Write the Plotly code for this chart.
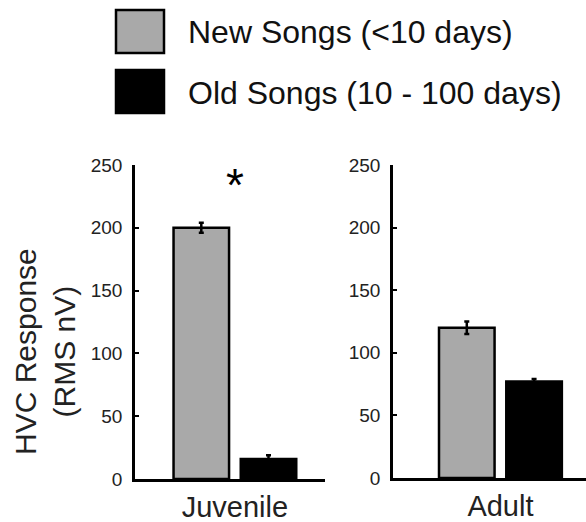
import plotly.graph_objects as go

# Mean HVC response (RMS nV) and SEM for each age group
groups = ["Juvenile", "Adult"]
series_names = ["New Songs (<10 days)", "Old Songs (10 - 100 days)"]
series_colors = ["#a9a9a9", "#000000"]
new_means = [200, 120]
new_errs = [4, 5]
old_means = [16, 77]
old_errs = [3, 2]
y_ticks = [0, 50, 100, 150, 200, 250]
significance = ["*", ""]

FONT = "Liberation Sans, Arial, Helvetica, sans-serif"
W, H = 586, 522

fig = go.Figure()

panel_x = ["x", "x2"]
panel_y = ["y", "y2"]
for i, g in enumerate(groups):
    for s, (means, errs) in enumerate([(new_means, new_errs), (old_means, old_errs)]):
        fig.add_trace(go.Bar(
            x=[0], y=[means[i]],
            name=series_names[s],
            offsetgroup=str(s),
            marker=dict(color=series_colors[s], line=dict(color="black", width=2.5)),
            error_y=dict(type="data", array=[errs[i]], color="black", thickness=2.5, width=2.5),
            xaxis=panel_x[i], yaxis=panel_y[i],
            showlegend=False,
        ))

def px(x):
    return x / W

def py(y):
    return 1 - y / H

y_common = dict(
    showline=True, linecolor="black", linewidth=2.5,
    showgrid=False, zeroline=False, automargin=False,
    tickfont=dict(family=FONT, size=19, color="#222"),
    range=[0, 250], tickvals=y_ticks,
    ticks="inside", ticklen=4, tickwidth=2, tickcolor="black",
    ticklabelstandoff=6,
)
x_common = dict(
    ticks="", showline=True, linecolor="black", linewidth=2.5,
    showgrid=False, zeroline=False, automargin=False,
    tickfont=dict(family=FONT, size=29, color="#222"),
    ticklabelstandoff=0,
)

fig.update_layout(
    width=W, height=H,
    margin=dict(l=0, r=0, t=0, b=0),
    paper_bgcolor="white", plot_bgcolor="white",
    barmode="group", bargap=0.2735, bargroupgap=0.174,
    showlegend=False,
    xaxis=dict(domain=[px(135), px(325)], range=[-0.54, 0.487],
               tickvals=[0], ticktext=[groups[0]], anchor="y", **x_common),
    xaxis2=dict(domain=[px(393), 1.0], range=[-0.58, 0.462],
                tickvals=[0], ticktext=[groups[1]], anchor="y2", **x_common),
    yaxis=dict(domain=[py(479), py(165)], anchor="x", **y_common),
    yaxis2=dict(domain=[py(478), py(165)], anchor="x2", **y_common),
)

# Y axis title
fig.add_annotation(
    text="HVC Response<br>(RMS nV)", textangle=-90,
    x=px(45), y=py(352), xref="paper", yref="paper",
    xanchor="center", yanchor="middle", showarrow=False,
    font=dict(family=FONT, size=30, color="#222"),
)

# Significance markers above each group
for i, mark in enumerate(significance):
    if mark:
        fig.add_annotation(
            text=mark, x=0, y=234, xref=panel_x[i], yref=panel_y[i],
            xanchor="center", yanchor="middle", showarrow=False,
            font=dict(family=FONT, size=46, color="black"),
        )

# Legend: swatches and labels
legend_rows = [(10, 53), (70, 113)]
for s, (top, bot) in enumerate(legend_rows):
    fig.add_shape(type="rect", xref="paper", yref="paper",
                  x0=px(116), x1=px(164), y0=py(bot), y1=py(top),
                  fillcolor=series_colors[s], line=dict(color="black", width=2.5))
    fig.add_annotation(
        text=series_names[s], x=px(186), y=py((top + bot) / 2 + 1),
        xref="paper", yref="paper", xanchor="left", yanchor="middle",
        showarrow=False, font=dict(family=FONT, size=32, color="#111"),
    )

fig.write_html("out.html")
